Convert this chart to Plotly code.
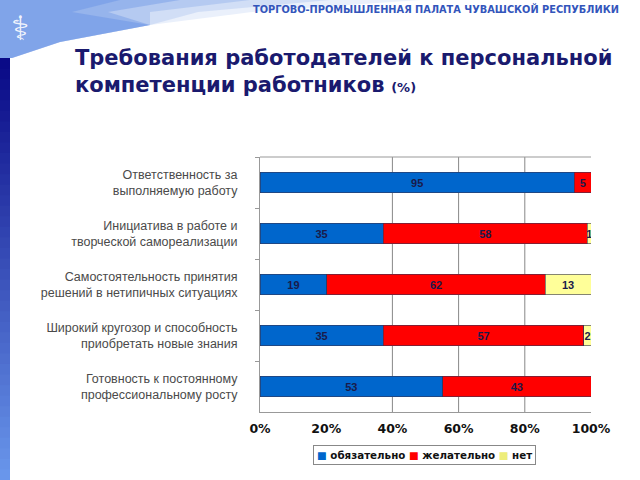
import plotly.graph_objects as go

categories = [
    "Ответственность за<br>выполняемую работу",
    "Инициатива в работе и<br>творческой самореализации",
    "Самостоятельность принятия<br>решений в нетипичных ситуациях",
    "Широкий кругозор и способность<br>приобретать новые знания",
    "Готовность к постоянному<br>профессиональному росту",
]
series_names = ["обязательно", "желательно", "нет"]
v_required = [95, 35, 19, 35, 53]
v_desired = [5, 58, 62, 57, 43]
v_none = [0, 1, 13, 2, 0]
x_tick_vals = [0, 20, 40, 60, 80, 100]
x_tick_text = ["0%", "20%", "40%", "60%", "80%", "100%"]
grid_x = [40, 60, 80]

colors = ["#0066CC", "#FF0000", "#FFFF99"]
legend_swatch_colors = ["#0066CC", "#FF0000", "#EDED7A"]
values = [v_required, v_desired, v_none]

fig = go.Figure()
for name, vals, col in zip(series_names, values, colors):
    fig.add_trace(go.Bar(
        y=categories, x=vals, name=name, orientation="h",
        marker=dict(color=col, line=dict(color="#333355", width=0.6)),
        text=[str(v) if v else "" for v in vals],
        textposition="inside", insidetextanchor="middle",
        constraintext="none",
        textfont=dict(family="Liberation Sans", size=11, color="#1a1a4a", weight="bold"),
        hoverinfo="skip", showlegend=False,
    ))

shapes = []


def px(x, y):
    return ((x - 260) / 331, (412 - y) / 255)


# left gradient stripe
n = 40
top, bot = 58, 480
c0 = (10, 10, 135)
c1 = (105, 150, 235)
for i in range(n):
    t = i / (n - 1)
    col = "rgb(%d,%d,%d)" % tuple(int(a + (b - a) * t) for a, b in zip(c0, c1))
    y0 = top + (bot - top) * i / n
    y1 = top + (bot - top) * (i + 1) / n + 1
    shapes.append(dict(type="rect", xref="paper", yref="paper",
                       x0=px(0, 0)[0], x1=px(10, 0)[0],
                       y0=px(0, y0)[1], y1=px(0, y1)[1],
                       line=dict(width=0), fillcolor=col, layer="below"))

# top-left light blue swoosh (layered for a fade)
swoosh_layers = [(420, 0.12), (330, 0.16), (250, 0.22), (180, 0.3), (120, 0.3)]
for xr, op in swoosh_layers:
    pts = [(0, 0), (xr, 0), (xr * 0.6, 12), (150, 25), (60, 42), (12, 58), (0, 58)]
    path = "M " + " L ".join("%f,%f" % px(*p) for p in pts) + " Z"
    shapes.append(dict(type="path", xref="paper", yref="paper", path=path,
                       fillcolor="rgba(80,130,225,%f)" % op, line=dict(width=0),
                       layer="below"))

# top border of plot and gridlines
shapes.append(dict(type="line", xref="paper", yref="paper", x0=0, x1=1, y0=1, y1=1,
                   line=dict(color="#999999", width=1)))
for gx in grid_x:
    shapes.append(dict(type="line", xref="x", yref="paper", x0=gx, x1=gx, y0=0, y1=1,
                       line=dict(color="#888888", width=1), layer="below"))

# legend built as rich text (squares + series names)
legend_font = dict(family="DejaVu Sans", size=10.3, color="#111111", weight="bold")
legend_text = " ".join("<span style='color:%s'>■</span> %s" % (c, nm)
                       for nm, c in zip(series_names, legend_swatch_colors))

lx, ly = px(424, 455)
annotations = [
    dict(text="<b>Требования работодателей к персональной<br>компетенции работников</b> <b><span style='font-size:13px'>(%)</span></b>",
         xref="paper", yref="paper", x=px(73, 0)[0], y=px(0, 44)[1],
         xanchor="left", yanchor="top", showarrow=False, align="left",
         font=dict(family="DejaVu Sans", size=21, color="#1a1a6e")),
    dict(text="<b>ТОРГОВО-ПРОМЫШЛЕННАЯ ПАЛАТА ЧУВАШСКОЙ РЕСПУБЛИКИ</b>",
         xref="paper", yref="paper", x=px(621, 0)[0], y=px(0, 9)[1],
         xanchor="right", yanchor="middle", showarrow=False,
         font=dict(family="DejaVu Sans", size=9.8, color="#3355bb")),
    dict(text="⚕", xref="paper", yref="paper", x=px(20, 0)[0], y=px(0, 28)[1],
         xanchor="center", yanchor="middle", showarrow=False,
         font=dict(family="DejaVu Sans", size=34, color="rgba(255,255,255,0.9)")),
    dict(text=legend_text, xref="paper", yref="paper", x=lx, y=ly,
         xanchor="center", yanchor="middle", showarrow=False,
         font=legend_font, bordercolor="#888888", borderwidth=1, borderpad=3,
         bgcolor="white"),
]

fig.update_layout(
    width=640, height=480,
    margin=dict(l=260, r=49, t=157, b=68),
    paper_bgcolor="white", plot_bgcolor="white",
    barmode="stack", barnorm="percent", bargap=0.6,
    shapes=shapes, annotations=annotations,
    showlegend=False,
    xaxis=dict(range=[0, 100], tickvals=x_tick_vals, ticktext=x_tick_text,
               showgrid=False, zeroline=False, showline=True, linecolor="#999999",
               ticks="", ticklabelstandoff=5,
               tickfont=dict(family="DejaVu Sans", size=12.5, color="#111111", weight="bold")),
    yaxis=dict(autorange="reversed", showgrid=False, showline=True, linecolor="#999999",
               ticks="outside", tickson="boundaries", ticklen=4, tickcolor="#999999",
               ticklabelstandoff=19,
               tickfont=dict(family="Liberation Sans", size=12.5, color="#4a4a4a")),
)

fig.write_html("out.html")
